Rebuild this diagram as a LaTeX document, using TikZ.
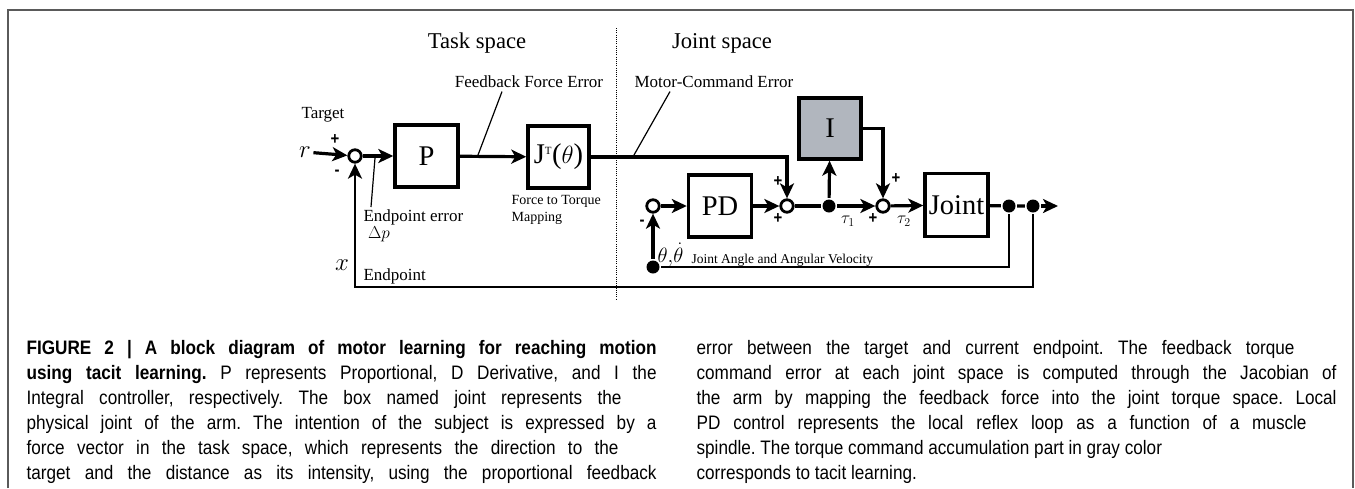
\documentclass[tikz,border=0pt]{standalone}
\usepackage{amsmath}
\usepackage{fontspec}
\setmainfont{Liberation Serif}
\setsansfont{Liberation Sans}[FakeStretch=0.88]
\usepackage{tikz}
\usetikzlibrary{arrows.meta,positioning}
\definecolor{igray}{RGB}{177,182,190}
\definecolor{framegray}{RGB}{90,90,90}

\begin{document}
\frenchspacing
\begin{tikzpicture}[x=1pt,y=-1pt,line width=3.2pt,
    >={Stealth[length=15pt,width=14pt,inset=4pt]},
    block/.style = {draw, line width=3.4pt, minimum width=63pt, minimum height=62pt,
      inner sep=0pt, font=\fontsize{28.5}{28.5}\selectfont},
    sumpt/.style = {circle, draw, fill=white, minimum size=12.5pt,
      inner sep=0pt, line width=2.8pt},
    joinpt/.style = {circle, fill, minimum size=13pt, inner sep=0pt},
    sgn/.style = {inner sep=0pt, font=\sffamily\bfseries\fontsize{17}{17}\selectfont},
    lbl/.style = {inner sep=0pt, font=\fontsize{17}{17}\selectfont},
    small/.style = {inner sep=0pt, font=\fontsize{14}{17}\selectfont},
    fb/.style = {line width=2.5pt},
    lead/.style = {line width=1.2pt},
    capline/.style = {inner sep=0pt, anchor=base west,
      font=\sffamily\fontsize{19.5}{19.5}\selectfont}
  ]
  \useasboundingbox (0,0) rectangle (1355,488);
  % frame
  \draw[framegray,line width=1.4pt] (8,488) -- (8,10) -- (1353,10) -- (1353,488);

  % space headings
  \node[inner sep=0pt,font=\fontsize{22.6}{22.6}\selectfont] (task) at (477,43) {Task space};
  \node[inner sep=0pt,font=\fontsize{22.6}{22.6}\selectfont] (jspace) at (722,43) {Joint space};
  \draw[line width=1pt,dash pattern=on 1pt off 1.2pt] (616,28) -- (616,300);

  % blocks
  \node[sumpt] (esum) at (355,156) {};
  \node[block] (pgain) at (426.5,156) {P};
  \node[block,minimum width=61pt] (jac) at (558.5,157) {J\textsuperscript{\fontsize{11}{11}\selectfont T}($\theta$)};
  \node[block,fill=igray,minimum width=62pt,minimum height=61pt] (igain) at (830,128.5) {I};
  \node[sumpt] (pdsum) at (653,206) {};
  \node[block] (pd) at (720,206) {PD};
  \node[sumpt] (msum) at (787,206) {};
  \node[joinpt] (tdot) at (829,206) {};
  \node[sumpt] (tsum) at (883,206) {};
  \node[block,minimum height=63pt] (joint) at (956.5,205) {Joint};
  \node[joinpt] (qdot) at (1009,206) {};
  \node[joinpt] (xdot) at (1033,206) {};
  \coordinate (out) at (1058,206);
  \node[joinpt] (thdot) at (653,267) {};
  \coordinate (xbot) at (1033,287);

  % labels
  \node[inner sep=1pt,font=\fontsize{26}{26}\selectfont] (rin) at (305,152) {$r$};
  \node[lbl] (target) at (323,115) {Target};
  \node[lbl] (ffe) at (529,82) {Feedback Force Error};
  \node[lbl,anchor=west] (mce) at (633,82) {Motor-Command Error};
  \node[lbl,anchor=north west] (eerr) at (362,208) {Endpoint error};
  \node[lbl] (dp) at (379,234) {$\Delta p$};
  \node[inner sep=0pt,font=\fontsize{26}{26}\selectfont] (xin) at (342,265) {$x$};
  \node[lbl,anchor=west] (endp) at (362,276) {Endpoint};
  \node[small,align=left,anchor=north west] (ftm) at (510,194) {Force to Torque\\Mapping};
  \node[inner sep=0pt,anchor=base west,font=\fontsize{21}{21}\selectfont] (th) at (656,262) {$\theta{,}\dot{\theta}$};
  \node[inner sep=0pt,anchor=base west,font=\fontsize{13.5}{13.5}\selectfont] (jav) at (690,263) {Joint Angle and Angular Velocity};
  \node[inner sep=0pt,font=\fontsize{18}{18}\selectfont] (tau1) at (848,221) {$\tau_1$};
  \node[inner sep=0pt,font=\fontsize{18}{18}\selectfont] (tau2) at (904,221) {$\tau_2$};

  % signs
  \node[sgn] at (335,140) {+};
  \node[sgn] at (337,173) {-};
  \node[sgn] at (642,223) {-};
  \node[sgn] at (778,182) {+};
  \node[sgn] at (778,219) {+};
  \node[sgn] at (873,219) {+};
  \node[sgn] at (896,179) {+};

  % signal lines
  \draw[->] (rin) -- (esum);
  \draw[->] (esum) -- (pgain);
  \draw[->] (pgain) -- (jac);
  \draw[->] (jac.east) -| (msum);
  \draw[->] (pdsum) -- (pd);
  \draw[->] (pd) -- (msum);
  \draw (msum) -- (tdot);
  \draw[->] (tdot) -- (igain);
  \draw[->] (tdot) -- (tsum);
  \draw[->] (igain.east) -| (tsum);
  \draw[->] (tsum) -- (joint);
  \draw (joint) -- (qdot) -- (xdot);
  \draw[->] (xdot) -- (out);
  \draw[fb] (qdot) |- (thdot);
  \draw[->] (thdot) -- (pdsum);
  \draw[->,fb] (xdot) -- (xbot) -| (esum);

  % leader lines
  \coordinate (ffetip) at (478,155);
  \coordinate (mcetip) at (634,155);
  \coordinate (eetip) at (375,158);
  \draw[lead] ([xshift=-27pt,yshift=-2pt]ffe.south) -- (ffetip);
  \draw[lead] ([xshift=-44pt,yshift=-2pt]mce.south) -- (mcetip);
  \draw[lead] (eetip) -- ([xshift=9pt,yshift=1pt]eerr.north west);

  % caption
  \node[capline] (c1) at (25,354) {\makebox[630pt][s]{\bfseries FIGURE 2 | A block diagram of motor learning for reaching motion}};
  \node[capline] (c2) at (25,379) {\makebox[630pt][s]{\textbf{using tacit learning.} P represents Proportional, D Derivative, and I the}};
  \node[capline] (c3) at (25,404) {\makebox[595pt][s]{Integral controller, respectively. The box named joint represents the}};
  \node[capline] (c4) at (25,429) {\makebox[630pt][s]{physical joint of the arm. The intention of the subject is expressed by a}};
  \node[capline] (c5) at (25,454) {\makebox[592pt][s]{force vector in the task space, which represents the direction to the}};
  \node[capline] (c6) at (25,479) {\makebox[630pt][s]{target and the distance as its intensity, using the proportional feedback}};
  \node[capline] (d1) at (695,354) {\makebox[598pt][s]{error between the target and current endpoint. The feedback torque}};
  \node[capline] (d2) at (695,379) {\makebox[640pt][s]{command error at each joint space is computed through the Jacobian of}};
  \node[capline] (d3) at (695,404) {\makebox[640pt][s]{the arm by mapping the feedback force into the joint torque space. Local}};
  \node[capline] (d4) at (695,429) {\makebox[610pt][s]{PD control represents the local reflex loop as a function of a muscle}};
  \node[capline] (d5) at (695,454) {spindle. The torque command accumulation part in gray color};
  \node[capline] (d6) at (695,479) {corresponds to tacit learning.};
\end{tikzpicture}
\end{document}
